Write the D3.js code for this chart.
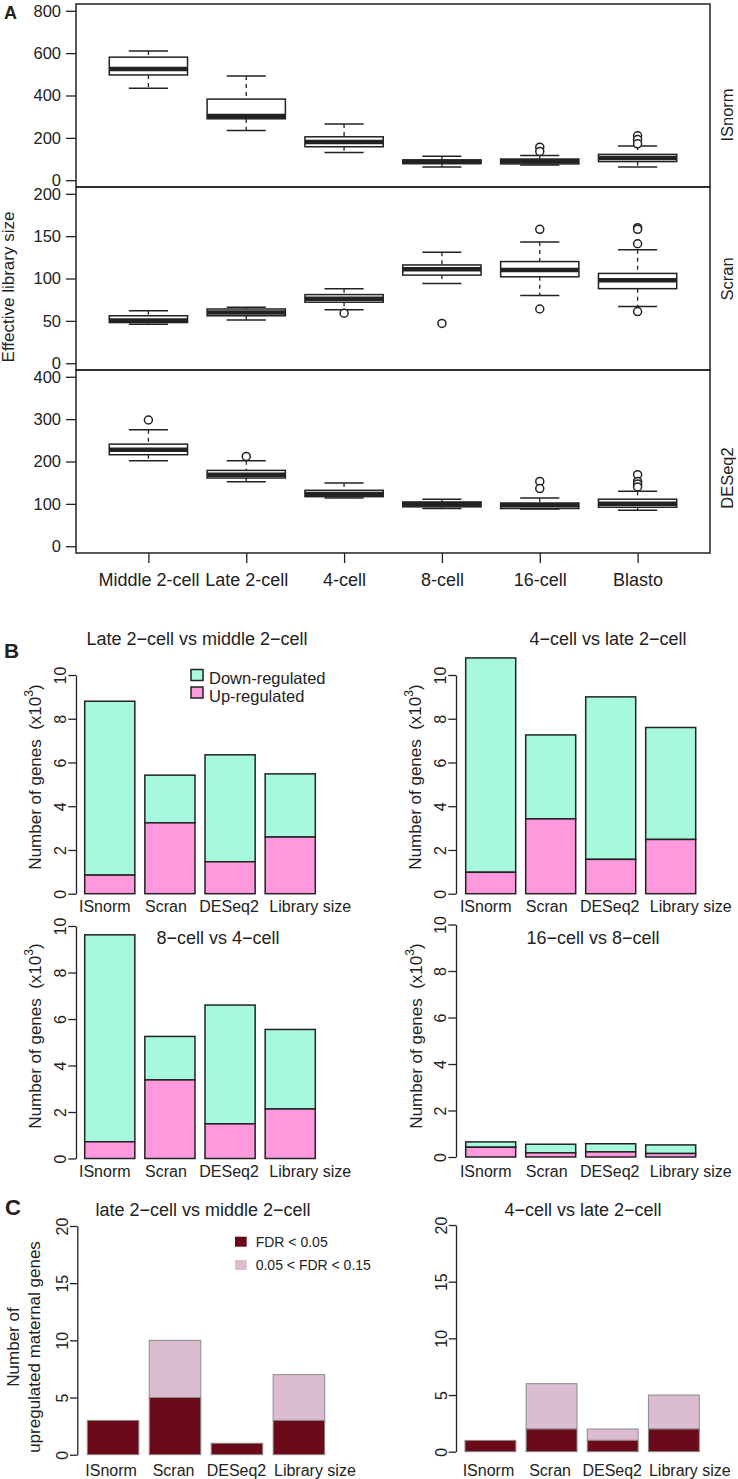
<!DOCTYPE html>
<html><head><meta charset="utf-8">
<script src="https://cdn.jsdelivr.net/npm/d3@7"></script>
<style>
body{margin:0;background:#fff}
svg text{font-family:"Liberation Sans",Arial,Helvetica,sans-serif;fill:#222}
</style></head><body>
<svg id="c" width="738" height="1479"></svg>
<script>
// ---------- DATA ----------
const stages = ["Middle 2-cell","Late 2-cell","4-cell","8-cell","16-cell","Blasto"];
// box stats: [lower whisker, Q1, median, Q3, upper whisker]
const isnormBox = [[434,497,525,581,610],[235,290,303,383,492],[131,158,181,205,266],[63,78,87,96,113],[72,77,89,100,117],[63,88,105,122,161]];
const isnormOut = [[],[],[],[],[156,136],[210,192,172]];
const scranBox = [[46,48,50.5,56,62],[51,56,60,64,66],[63,72,76,81,88],[94,104,111,116,131],[80,102,110,120,143],[67,88,98,106,134]];
const scranOut = [[],[],[59],[47],[158,64],[160,158,141,61]];
const deseqBox = [[202,216,228,241,275],[152,161,169,179,202],[114,117,123,132,149],[89,93,99,104.5,111],[88,89,97,102,114],[85,92,100,111,130]];
const deseqOut = [[298],[212],[],[],[153,136],[169,153,147,140]];
const isnormTicks = [0,200,400,600,800];
const scranTicks = [0,50,100,150,200];
const deseqTicks = [0,100,200,300,400];

const methods = ["ISnorm","Scran","DESeq2","Library size"];
const late2Up = [0.85,3.24,1.46,2.59];
const late2Down = [7.95,2.18,4.89,2.89];
const cell4Up = [0.98,3.42,1.57,2.48];
const cell4Down = [9.80,3.84,7.43,5.12];
const cell8Up = [0.72,3.38,1.49,2.13];
const cell8Down = [8.90,1.87,5.11,3.42];
const cell16Up = [0.42,0.18,0.22,0.15];
const cell16Down = [0.23,0.37,0.35,0.37];
const geneTicks = [0,2,4,6,8,10];

const matLateFdr05 = [3,5,1,3];
const matLateFdr15 = [0,5,0,4];
const mat4Fdr05 = [1,2,1,2];
const mat4Fdr15 = [0,4,1,3];
const matTicks = [0,5,10,15,20];

// ---------- STYLE ----------
const INK = "#222";
const TEAL = "#a6f9de", PINK = "#fe99de", DARK = "#6b0b19", LIGHT = "#dcbcd0";
const labelShiftB = [-5,-4,-1,20];   // horizontal nudges of the category labels (layout)
const labelShiftC = [-2,-1.5,-0.5,16];
const svg = d3.select("#c");

// ---------- PANEL A ----------
const xA = d3.scaleLinear().domain([0.26,6.74]).range([76,710]);
const panelsA = [
  {label:"ISnorm", stats:isnormBox, out:isnormOut, ticks:isnormTicks, domain:[-32,832], top:4, bottom:187, labelY:115},
  {label:"Scran", stats:scranBox, out:scranOut, ticks:scranTicks, domain:[-8,208], top:187, bottom:370, labelY:279},
  {label:"DESeq2", stats:deseqBox, out:deseqOut, ticks:deseqTicks, domain:[-16,416], top:370, bottom:553, labelY:478}
];
panelsA.forEach(p => {
  const y = d3.scaleLinear().domain(p.domain).range([p.bottom,p.top]);
  const g = svg.append("g");
  const ax = g.append("g").attr("transform","translate(76,0)")
    .call(d3.axisLeft(y).tickValues(p.ticks).tickSize(10).tickPadding(5));
  ax.attr("font-size",16.5).attr("font-family",null).style("color",INK);
  ax.select(".domain").remove();
  ax.selectAll("line").attr("stroke-width",1.3);
  const hw = (xA(1.4)-xA(1));
  p.stats.forEach((s,i) => {
    const cx = xA(i+1);
    const bg = g.append("g").attr("stroke",INK).attr("fill","none");
    bg.append("line").attr("x1",cx).attr("x2",cx).attr("y1",y(s[4])).attr("y2",y(s[3]))
      .attr("stroke-width",1.3).attr("stroke-dasharray","4,4");
    bg.append("line").attr("x1",cx).attr("x2",cx).attr("y1",y(s[1])).attr("y2",y(s[0]))
      .attr("stroke-width",1.3).attr("stroke-dasharray","4,4");
    [s[0],s[4]].forEach(v => bg.append("line").attr("x1",cx-hw/2).attr("x2",cx+hw/2)
      .attr("y1",y(v)).attr("y2",y(v)).attr("stroke-width",1.5));
    bg.append("rect").attr("x",cx-hw).attr("width",2*hw).attr("y",y(s[3]))
      .attr("height",y(s[1])-y(s[3])).attr("fill","#fff").attr("stroke-width",1.5);
    bg.append("line").attr("x1",cx-hw).attr("x2",cx+hw).attr("y1",y(s[2])).attr("y2",y(s[2]))
      .attr("stroke-width",4.5);
    p.out[i].forEach(v => bg.append("circle").attr("cx",cx).attr("cy",y(v)).attr("r",4)
      .attr("fill","#fff").attr("stroke-width",1.5));
  });
  g.append("rect").attr("x",76).attr("y",p.top).attr("width",634).attr("height",p.bottom-p.top)
    .attr("fill","none").attr("stroke",INK).attr("stroke-width",1.5);
  g.append("text").attr("transform",`translate(727,${p.labelY}) rotate(-90)`)
    .attr("text-anchor","middle").attr("dominant-baseline","central").attr("font-size",16.5).text(p.label);
});
{
  const axb = svg.append("g").attr("transform","translate(0,553)")
    .call(d3.axisBottom(xA).tickValues([1,2,3,4,5,6]).tickFormat(d => stages[d-1]).tickSize(10).tickPadding(10));
  axb.attr("font-size",18).attr("font-family",null).style("color",INK);
  axb.select(".domain").remove();
  axb.selectAll("line").attr("stroke-width",1.3);
}
svg.append("text").attr("transform","translate(8,287) rotate(-90)").attr("text-anchor","middle")
  .attr("dominant-baseline","central").attr("font-size",17).text("Effective library size");
svg.append("text").attr("x",4).attr("y",19).attr("font-size",18).attr("font-weight","bold").text("A");

// ---------- PANEL B ----------
const panelsB = [
  {title:"Late 2\u2212cell vs middle 2\u2212cell", up:late2Up, down:late2Down, x0:84.7, x1:315.3, axisX:76, yB:893.7, yT:675, tx:197, ty:645, lx:35, ly:777, xly:911.5, legend:true},
  {title:"4\u2212cell vs late 2\u2212cell", up:cell4Up, down:cell4Down, x0:465.7, x1:695.7, axisX:456, yB:893.7, yT:675, tx:608, ty:645, lx:415, ly:777, xly:911.5},
  {title:"8\u2212cell vs 4\u2212cell", up:cell8Up, down:cell8Down, x0:84.7, x1:315.3, axisX:76, yB:1158.5, yT:926, tx:218, ty:944, lx:35, ly:1036, xly:1176.5},
  {title:"16\u2212cell vs 8\u2212cell", up:cell16Up, down:cell16Down, x0:465.7, x1:695.7, axisX:456, yB:1157, yT:924.5, tx:593, ty:944, lx:416, ly:1036, xly:1176.5}
];
function rotatedAxis(g, y, ticks, axisX, tsize, off){
  const ax = g.append("g").attr("transform",`translate(${axisX},0)`)
    .call(d3.axisLeft(y).tickValues(ticks).tickSize(tsize).tickSizeOuter(0));
  ax.attr("font-size",16).attr("font-family",null).style("color",INK);
  ax.select(".domain").attr("stroke-width",1.3);
  ax.selectAll("line").attr("stroke-width",1.3);
  ax.selectAll("text").attr("x",0).attr("y",off).attr("dy",0).attr("transform","rotate(-90)").attr("text-anchor","middle");
}
panelsB.forEach(p => {
  const g = svg.append("g");
  const x = d3.scaleBand().domain(methods).range([p.x0,p.x1]).paddingInner(0.1667).paddingOuter(0);
  const y = d3.scaleLinear().domain([0,10]).range([p.yB,p.yT]);
  rotatedAxis(g, y, geneTicks, p.axisX, 7.7, -10.5);
  methods.forEach((m,i) => {
    g.append("rect").attr("x",x(m)).attr("width",x.bandwidth()).attr("y",y(p.up[i]+p.down[i]))
      .attr("height",y(p.up[i])-y(p.up[i]+p.down[i])).attr("fill",TEAL).attr("stroke",INK).attr("stroke-width",1.5);
    g.append("rect").attr("x",x(m)).attr("width",x.bandwidth()).attr("y",y(p.up[i]))
      .attr("height",y(0)-y(p.up[i])).attr("fill",PINK).attr("stroke",INK).attr("stroke-width",1.5);
    g.append("text").attr("x",x(m)+x.bandwidth()/2+labelShiftB[i]).attr("y",p.xly).attr("text-anchor","middle")
      .attr("font-size",16).text(m);
  });
  g.append("text").attr("x",p.tx).attr("y",p.ty).attr("text-anchor","middle").attr("font-size",18).text(p.title);
  const yl = g.append("text").attr("transform",`translate(${p.lx},${p.ly}) rotate(-90)`)
    .attr("text-anchor","middle").attr("dominant-baseline","central").attr("font-size",17);
  yl.append("tspan").text("Number of genes\u00a0\u00a0(x10");
  yl.append("tspan").attr("dy",-6).attr("font-size",12).text("3");
  yl.append("tspan").attr("dy",6).text(")");
  if (p.legend){
    const items = [["Down-regulated",TEAL],["Up-regulated",PINK]];
    items.forEach((it,k) => {
      g.append("rect").attr("x",191).attr("y",669.5+k*17.5).attr("width",12).attr("height",11)
        .attr("fill",it[1]).attr("stroke",INK).attr("stroke-width",1.5);
      g.append("text").attr("x",209).attr("y",684+k*17.5).attr("font-size",16.5).text(it[0]);
    });
  }
});
svg.append("text").attr("x",4).attr("y",658).attr("font-size",21).attr("font-weight","bold").text("B");

// ---------- PANEL C ----------
const panelsC = [
  {title:"late 2\u2212cell vs middle 2\u2212cell", a:matLateFdr05, b:matLateFdr15, x0:87.3, x1:324.7, axisX:77.3, yB:1454.7, yT:1226, tx:203, ty:1216, xly:1476, legend:true},
  {title:"4\u2212cell vs late 2\u2212cell", a:mat4Fdr05, b:mat4Fdr15, x0:465, x1:699.3, axisX:456, yB:1451.7, yT:1225, tx:583, ty:1216, xly:1476}
];
panelsC.forEach(p => {
  const g = svg.append("g");
  const x = d3.scaleBand().domain(methods).range([p.x0,p.x1]).paddingInner(0.168).paddingOuter(0);
  const y = d3.scaleLinear().domain([0,20]).range([p.yB,p.yT]);
  rotatedAxis(g, y, matTicks, p.axisX, 7.3, -9.5);
  methods.forEach((m,i) => {
    if (p.b[i] > 0) g.append("rect").attr("x",x(m)).attr("width",x.bandwidth()).attr("y",y(p.a[i]+p.b[i]))
      .attr("height",y(p.a[i])-y(p.a[i]+p.b[i])).attr("fill",LIGHT).attr("stroke","#8a8a8a").attr("stroke-width",1);
    g.append("rect").attr("x",x(m)).attr("width",x.bandwidth()).attr("y",y(p.a[i]))
      .attr("height",y(0)-y(p.a[i])).attr("fill",DARK).attr("stroke","#8a8a8a").attr("stroke-width",1);
    g.append("text").attr("x",x(m)+x.bandwidth()/2+labelShiftC[i]).attr("y",p.xly).attr("text-anchor","middle")
      .attr("font-size",16).text(m);
  });
  g.append("text").attr("x",p.tx).attr("y",p.ty).attr("text-anchor","middle").attr("font-size",18).text(p.title);
  if (p.legend){
    const items = [["FDR < 0.05",DARK],["0.05 < FDR < 0.15",LIGHT]];
    items.forEach((it,k) => {
      g.append("rect").attr("x",235).attr("y",1236.7+k*23.3).attr("width",11.7).attr("height",10).attr("fill",it[1]);
      g.append("text").attr("x",255.7).attr("y",1246.5+k*23.3).attr("font-size",14).text(it[0]);
    });
  }
});
{
  const yl = svg.append("text").attr("transform","translate(24,1347) rotate(-90)")
    .attr("text-anchor","middle").attr("font-size",17);
  yl.append("tspan").attr("x",0).attr("dy",-5).text("Number of");
  yl.append("tspan").attr("x",0).attr("dy",21).text("upregulated maternal genes");
}
svg.append("text").attr("x",5).attr("y",1215).attr("font-size",22).attr("font-weight","bold").text("C");
</script>
</body></html>
